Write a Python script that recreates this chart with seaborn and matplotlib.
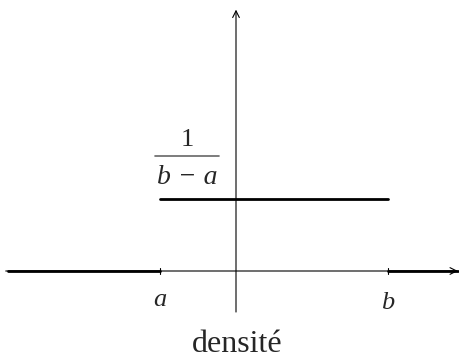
import numpy as np
import pandas as pd
import matplotlib.pyplot as plt
import seaborn as sns

# bornes de la loi uniforme
a = -1.0
b = 2.0
x_min = -3.0
x_max = 2.92
densite = 1.0 / (b - a)

# segments de la densite
seg_x = [[x_min, a], [a, b], [b, x_max]]
seg_y = [[0.0, 0.0], [densite, densite], [0.0, 0.0]]

sns.set_theme(style="white")
plt.rcParams['font.family'] = ['Liberation Serif', 'DejaVu Serif']

fig = plt.figure(figsize=(4.6, 3.57), dpi=100)
ax = fig.add_axes([0, 0, 1, 1])
ax.axis('off')

# densite (traits epais)
for xs, ys in zip(seg_x, seg_y):
    df = pd.DataFrame({'x': xs, 'y': ys})
    sns.lineplot(data=df, x='x', y='y', ax=ax, color='black', lw=2.0,
                 estimator=None, sort=False)

ax.set_xlim(-236 / 76, 224 / 76)
ax.set_ylim(-86 / 216, 271 / 216)

# axes fins avec fleches
ax.annotate('', xy=(x_max, 0), xytext=(x_min - 0.03, 0), annotation_clip=False,
            arrowprops=dict(arrowstyle='->', lw=0.8, color='black', shrinkA=0, shrinkB=0))
ax.annotate('', xy=(0, 1.21), xytext=(0, -0.19), annotation_clip=False,
            arrowprops=dict(arrowstyle='->', lw=0.8, color='black', shrinkA=0, shrinkB=0))

# graduations en a et b
for xt in [a, b]:
    ax.plot([xt, xt], [-0.013, 0.013], color='black', lw=0.8)

ax.text(a, -0.135, 'a', style='italic', fontsize=19, ha='center', va='center')
ax.text(b, -0.148, 'b', style='italic', fontsize=19, ha='center', va='center')

# fraction 1/(b-a)
ax.text(-0.64, 0.605, '1', fontsize=19, ha='center', va='center')
ax.plot([-1.06, -0.22], [0.532, 0.532], color='#666666', lw=1.2)
ax.text(-0.64, 0.435, 'b − a', style='italic', fontsize=20, ha='center', va='center')

ax.text(0.01, -0.338, 'densité', fontsize=23, ha='center', va='center')

fig.savefig('out.png', dpi=100)
